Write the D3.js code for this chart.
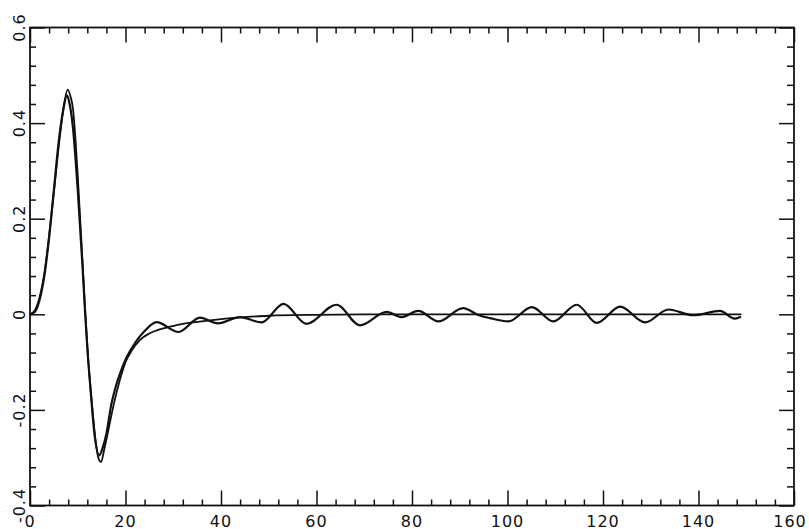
<!DOCTYPE html>
<html>
<head>
<meta charset="utf-8">
<script src="https://cdn.jsdelivr.net/npm/d3@7"></script>
<style>
    body { margin: 0; background: #fff; }
    text { font-family: "DejaVu Sans", sans-serif; fill: #111; }
</style>
</head>
<body>
<div id="chart"></div>
<script>
// smooth (model) curve
var fitX = [0, 1, 2, 3, 4, 5, 6, 7, 7.9, 8.5, 9, 9.5, 10, 10.5, 11, 11.6, 12.2, 12.9, 13.8, 14.3, 14.9,
            15.5, 16.4, 17.5, 18.8, 20, 21.3, 23, 25, 27, 29.3, 32, 35, 40, 45, 50, 60, 70, 149];
var fitY = [0, 0.008, 0.035, 0.085, 0.165, 0.255, 0.35, 0.43, 0.47, 0.455, 0.43, 0.37, 0.29, 0.2, 0.11, 0, -0.095, -0.179, -0.27, -0.3, -0.309,
            -0.285, -0.243, -0.19, -0.138, -0.1, -0.076, -0.054, -0.04, -0.032, -0.026, -0.02, -0.016, -0.01, -0.006, -0.003, -0.001, 0, 0];

// measured (wiggly) curve
var dataX = [0, 1, 2, 3, 4, 5, 6, 7, 7.7, 8.3, 9, 9.5, 10, 10.5, 11, 11.5, 12, 12.7, 13.5, 14.5,
             15.2, 16, 17, 18, 19, 20, 22, 24, 26.5, 31.1, 35.6, 39.3, 44, 48.5, 53.1, 57.9, 64.2, 69.1,
             74.7, 77.8, 81.3, 85.5, 90.7, 94, 96.3, 100.2, 105.1, 109.6, 114.5, 118.7, 123.6, 128.8,
             133.7, 138.9, 144.5, 147.6, 148.9];
var dataY = [0, 0.005, 0.03, 0.08, 0.16, 0.26, 0.36, 0.43, 0.458, 0.44, 0.39, 0.33, 0.26, 0.18, 0.1, 0.01, -0.07, -0.16, -0.25, -0.295,
             -0.28, -0.25, -0.19, -0.15, -0.12, -0.095, -0.06, -0.035, -0.0165, -0.037, -0.007, -0.019, -0.006, -0.017, 0.022, -0.02, 0.02, -0.023,
             0.005, -0.006, 0.007, -0.015, 0.013, -0.002, -0.008, -0.015, 0.015, -0.015, 0.02, -0.018, 0.016, -0.017,
             0.01, -0.002, 0.007, -0.009, -0.005];

var xMajor = [0, 20, 40, 60, 80, 100, 120, 140, 160];
var yMajor = [-0.4, -0.2, 0, 0.2, 0.4, 0.6];

var width = 809,
    height = 529,
    plotLeft = 30,
    plotRight = 794,
    plotTop = 27.5,
    plotBottom = 505.5;

var x = d3.scaleLinear().domain([0, 160]).range([plotLeft, plotRight]);
var y = d3.scaleLinear().domain([-0.4, 0.6]).range([plotBottom, plotTop]);

var xMinor = d3.range(0, 161, 4).filter(function (d) { return d % 20 !== 0; });
var yMinor = d3.range(-40, 61, 4).filter(function (d) { return d % 20 !== 0; }).map(function (d) { return d / 100; });

var svg = d3
    .select("#chart")
    .append("svg")
    .attr("width", width)
    .attr("height", height);

function tickAxis(axis, values, size, pos) {
    var g = svg
        .append("g")
        .attr("transform", pos)
        .call(axis.tickValues(values).tickSize(-size).tickSizeOuter(0).tickFormat(""));
    g.select(".domain").remove();
    g.selectAll("line").attr("stroke", "#111").attr("stroke-width", 1.5);
    return g;
}

// minor and major ticks on all four sides, pointing inward
tickAxis(d3.axisBottom(x), xMinor, 6, "translate(0," + plotBottom + ")");
tickAxis(d3.axisTop(x), xMinor, 6, "translate(0," + plotTop + ")");
tickAxis(d3.axisLeft(y), yMinor, 6, "translate(" + plotLeft + ",0)");
tickAxis(d3.axisRight(y), yMinor, 7, "translate(" + plotRight + ",0)");
tickAxis(d3.axisBottom(x), xMajor, 15, "translate(0," + plotBottom + ")");
tickAxis(d3.axisTop(x), xMajor, 15, "translate(0," + plotTop + ")");
tickAxis(d3.axisLeft(y), yMajor, 15, "translate(" + plotLeft + ",0)");
tickAxis(d3.axisRight(y), yMajor, 15, "translate(" + plotRight + ",0)");

svg
    .append("rect")
    .attr("x", plotLeft)
    .attr("y", plotTop)
    .attr("width", plotRight - plotLeft)
    .attr("height", plotBottom - plotTop)
    .attr("fill", "none")
    .attr("stroke", "#111")
    .attr("stroke-width", 1.8);

// tick labels (the last one is pulled in so it stays on the page)
svg
    .selectAll("text.xlab")
    .data(xMajor)
    .enter()
    .append("text")
    .attr("class", "xlab")
    .attr("x", function (d) { return Math.min(x(d), width - 19); })
    .attr("y", plotBottom + 21)
    .attr("text-anchor", "middle")
    .style("font-size", "16px")
    .style("letter-spacing", "1px")
    .text(function (d) { return d; });

svg
    .selectAll("text.ylab")
    .data(yMajor)
    .enter()
    .append("text")
    .attr("class", "ylab")
    .attr("transform", function (d) {
        return "translate(" + (plotLeft - 5) + "," + y(d) + ") rotate(-90)";
    })
    .attr("text-anchor", "middle")
    .style("font-size", "16px")
    .style("letter-spacing", "1px")
    .text(function (d) { return d === 0 ? "0" : d3.format(".1f")(d).replace("\u2212", "-"); });

var line = d3
    .line()
    .x(function (d) { return x(d[0]); })
    .y(function (d) { return y(d[1]); })
    .curve(d3.curveMonotoneX);

svg
    .append("path")
    .datum(d3.zip(fitX, fitY))
    .attr("fill", "none")
    .attr("stroke", "#111")
    .attr("stroke-width", 1.8)
    .attr("d", line);

svg
    .append("path")
    .datum(d3.zip(dataX, dataY))
    .attr("fill", "none")
    .attr("stroke", "#111")
    .attr("stroke-width", 2.2)
    .attr("d", line);
</script>
</body>
</html>
